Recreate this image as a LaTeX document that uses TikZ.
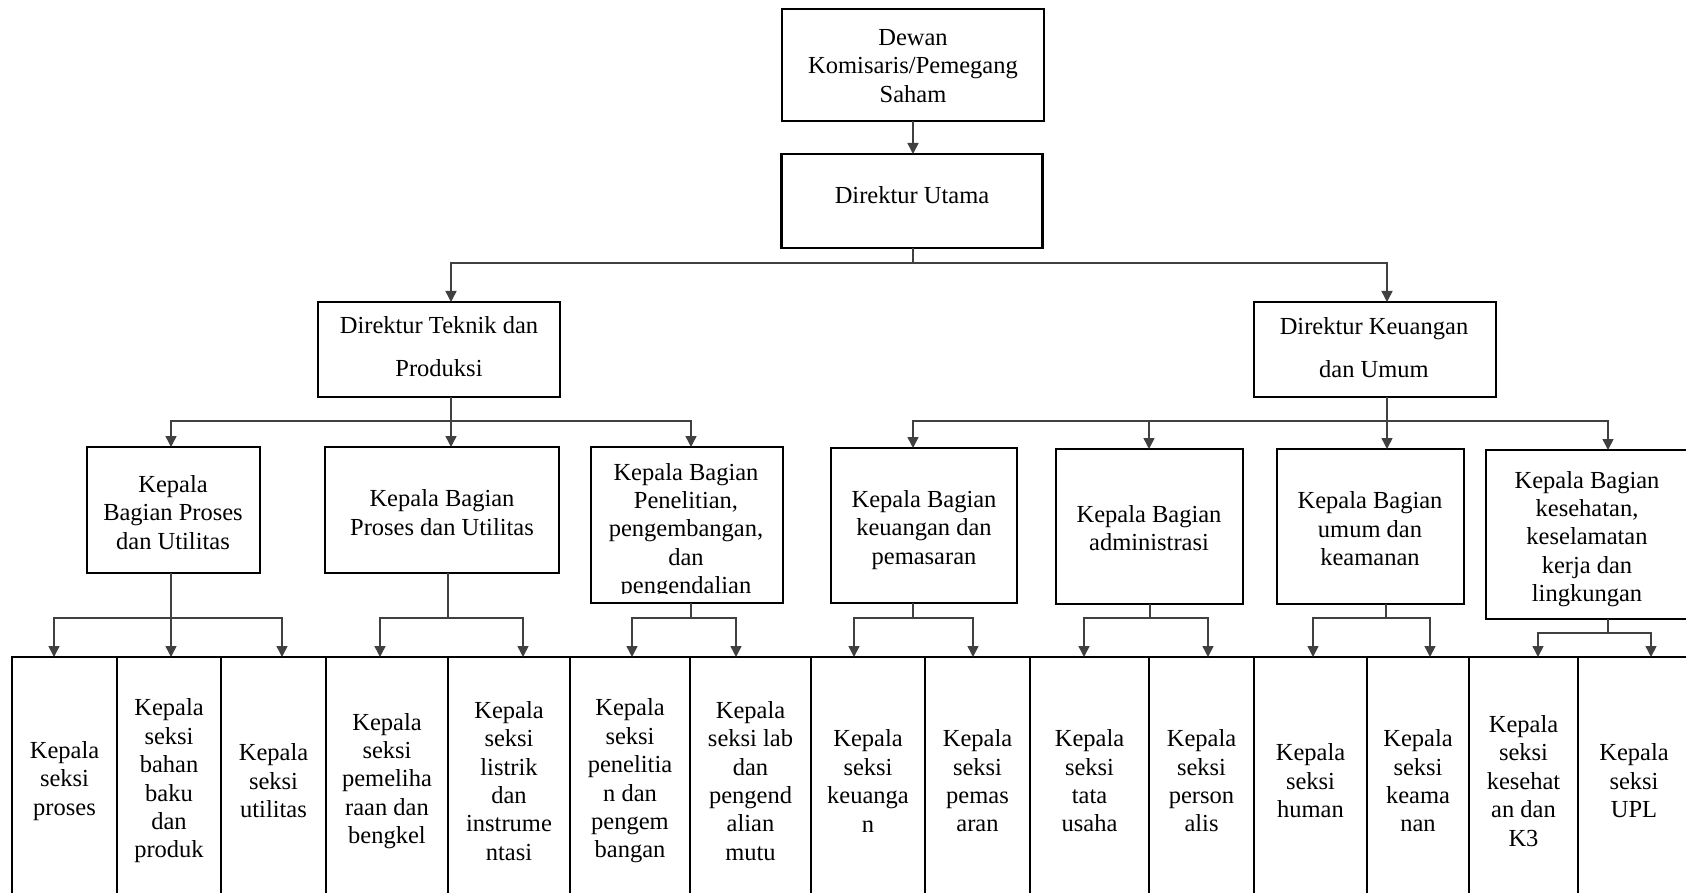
\documentclass[tikz,border=0pt]{standalone}
\usepackage{fontspec}
\setmainfont{Liberation Serif}
\usetikzlibrary{arrows.meta}
\begin{document}
\begin{tikzpicture}[x=1pt,y=-1pt,
  box/.style={draw=black, line width=2.2pt, inner sep=0pt, outer sep=0pt},
  txt/.style={inner sep=0pt, align=center, font=\fontsize{24.5pt}{28.4pt}\selectfont, text=black},
  conn/.style={draw=black!75, line width=1.5pt},
  arr/.style={conn, -{Triangle[length=11pt,width=11pt]}},
]
\useasboundingbox (0,0) rectangle (1686,893);
\fill[white] (0,0) rectangle (1686,893);
\clip (0,0) rectangle (1686,893);

% top levels
\node[box, minimum width=262pt, minimum height=112pt] (dewan) at (913,65) {};
\node[txt] (dewan-t) at (913,66) {Dewan\\Komisaris/Pemegang\\Saham};
\node[box, minimum width=261pt, minimum height=94pt] (utama) at (912,201) {};
\node[txt] (utama-t) at (912,195) {Direktur Utama};
\node[box, minimum width=242pt, minimum height=95pt] (teknik) at (439,349.5) {};
\node[txt] (teknik-t) at (439,347) {Direktur Teknik dan\\[14.6pt]Produksi};
\node[box, minimum width=242pt, minimum height=95pt] (keu) at (1375,349.5) {};
\node[txt] (keu-t) at (1374,348) {Direktur Keuangan\\[14.6pt]dan Umum};

% kepala bagian
\node[box, minimum width=173pt, minimum height=126pt] (kb1) at (173.5,510) {};
\node[txt] (kb1-t) at (173,512.5) {Kepala\\Bagian Proses\\dan Utilitas};
\node[box, minimum width=234pt, minimum height=126pt] (kb2) at (442,510) {};
\node[txt] (kb2-t) at (442,512.5) {Kepala Bagian\\Proses dan Utilitas};
\node[box, minimum width=192pt, minimum height=156pt] (kb3) at (687,525) {};
\begin{scope}
\clip (591,447) rectangle (783,593);
\node[txt] (kb3-t) at (686,531) {Kepala Bagian\\Penelitian,\\pengembangan,\\dan\\pengendalian};
\end{scope}
\node[box, minimum width=186pt, minimum height=155pt] (kb4) at (924,525.5) {};
\node[txt] (kb4-t) at (924,530) {Kepala Bagian\\keuangan dan\\pemasaran};
\node[box, minimum width=187pt, minimum height=155pt] (kb5) at (1149.5,526.5) {};
\node[txt] (kb5-t) at (1149,528) {Kepala Bagian\\administrasi};
\node[box, minimum width=187pt, minimum height=155pt] (kb6) at (1370.5,526.5) {};
\node[txt] (kb6-t) at (1370,529) {Kepala Bagian\\umum dan\\keamanan};
\node[box, minimum width=204pt, minimum height=169pt] (kb7) at (1588,534.5) {};
\node[txt] (kb7-t) at (1587,539) {Kepala Bagian\\kesehatan,\\keselamatan\\kerja dan\\lingkungan};

% seksi row
\node[box, minimum width=105pt, minimum height=240pt] (s1) at (64.5,777) {};
\node[txt] (s1-t) at (64.5,781) {Kepala\\seksi\\proses};
\node[box, minimum width=104pt, minimum height=240pt] (s2) at (169,777) {};
\node[txt] (s2-t) at (169,781) {Kepala\\seksi\\bahan\\baku\\dan\\produk};
\node[box, minimum width=105pt, minimum height=240pt] (s3) at (273.5,777) {};
\node[txt] (s3-t) at (273.5,781) {Kepala\\seksi\\utilitas};
\node[box, minimum width=122pt, minimum height=240pt] (s4) at (387,777) {};
\node[txt] (s4-t) at (387,781) {Kepala\\seksi\\pemeliha\\raan dan\\bengkel};
\node[box, minimum width=122pt, minimum height=240pt] (s5) at (509,777) {};
\node[txt] (s5-t) at (509,781) {Kepala\\seksi\\listrik\\dan\\instrume\\ntasi};
\node[box, minimum width=120pt, minimum height=240pt] (s6) at (630,777) {};
\node[txt] (s6-t) at (630,781) {Kepala\\seksi\\penelitia\\n dan\\pengem\\bangan};
\node[box, minimum width=121pt, minimum height=240pt] (s7) at (750.5,777) {};
\node[txt] (s7-t) at (750.5,781) {Kepala\\seksi lab\\dan\\pengend\\alian\\mutu};
\node[box, minimum width=114pt, minimum height=240pt] (s8) at (868,777) {};
\node[txt] (s8-t) at (868,781) {Kepala\\seksi\\keuanga\\n};
\node[box, minimum width=105pt, minimum height=240pt] (s9) at (977.5,777) {};
\node[txt] (s9-t) at (977.5,781) {Kepala\\seksi\\pemas\\aran};
\node[box, minimum width=119pt, minimum height=240pt] (s10) at (1089.5,777) {};
\node[txt] (s10-t) at (1089.5,781) {Kepala\\seksi\\tata\\usaha};
\node[box, minimum width=105pt, minimum height=240pt] (s11) at (1201.5,777) {};
\node[txt] (s11-t) at (1201.5,781) {Kepala\\seksi\\person\\alis};
\node[box, minimum width=113pt, minimum height=240pt] (s12) at (1310.5,777) {};
\node[txt] (s12-t) at (1310.5,781) {Kepala\\seksi\\human};
\node[box, minimum width=102pt, minimum height=240pt] (s13) at (1418,777) {};
\node[txt] (s13-t) at (1418,781) {Kepala\\seksi\\keama\\nan};
\node[box, minimum width=109pt, minimum height=240pt] (s14) at (1523.5,777) {};
\node[txt] (s14-t) at (1523.5,781) {Kepala\\seksi\\kesehat\\an dan\\K3};
\node[box, minimum width=112pt, minimum height=240pt] (s15) at (1634,777) {};
\node[txt] (s15-t) at (1634,781) {Kepala\\seksi\\UPL};

% connectors
\draw[arr] (dewan.south) -- (dewan.south |- utama.north);
\coordinate (j0) at (913,263);
\draw[conn] ([xshift=1]utama.south) -- (j0);
\draw[arr] (j0) -| ([xshift=12]teknik.north);
\draw[arr] (j0) -| ([xshift=12]keu.north);

\coordinate (jt) at (451,421);
\draw[conn] ([xshift=12]teknik.south) -- (jt);
\draw[arr] (jt) -| ([xshift=-2.5]kb1.north);
\draw[arr] (jt) -- ([xshift=9]kb2.north);
\draw[arr] (jt) -| ([xshift=4]kb3.north);

\coordinate (jk) at (1387,421);
\draw[conn] ([xshift=12]keu.south) -- (jk);
\draw[arr] (jk) -| ([xshift=-11]kb4.north);
\draw[arr] (jk) -| ([xshift=-0.5]kb5.north);
\draw[arr] (jk) -- ([xshift=16.5]kb6.north);
\draw[arr] (jk) -| ([xshift=20]kb7.north);

\coordinate (j1) at (171,618);
\draw[conn] ([xshift=-2.5]kb1.south) -- (j1);
\draw[arr] (j1) -| ([xshift=-10.5]s1.north);
\draw[arr] (j1) -- ([xshift=2]s2.north);
\draw[arr] (j1) -| ([xshift=8.5]s3.north);

\coordinate (j2) at (448,618);
\draw[conn] ([xshift=6]kb2.south) -- (j2);
\draw[arr] (j2) -| ([xshift=-7]s4.north);
\draw[arr] (j2) -| ([xshift=14]s5.north);

\coordinate (j3) at (691,618);
\draw[conn] ([xshift=4]kb3.south) -- (j3);
\draw[arr] (j3) -| ([xshift=2]s6.north);
\draw[arr] (j3) -| ([xshift=-14.5]s7.north);

\coordinate (j4) at (913,618);
\draw[conn] ([xshift=-11]kb4.south) -- (j4);
\draw[arr] (j4) -| ([xshift=-14]s8.north);
\draw[arr] (j4) -| ([xshift=-4.5]s9.north);

\coordinate (j5) at (1150,618);
\draw[conn] ([xshift=0.5]kb5.south) -- (j5);
\draw[arr] (j5) -| ([xshift=-5.5]s10.north);
\draw[arr] (j5) -| ([xshift=6.5]s11.north);

\coordinate (j6) at (1386,618);
\draw[conn] ([xshift=15.5]kb6.south) -- (j6);
\draw[arr] (j6) -| ([xshift=2.5]s12.north);
\draw[arr] (j6) -| ([xshift=12]s13.north);

\coordinate (j7) at (1608,633);
\draw[conn] ([xshift=20]kb7.south) -- (j7);
\draw[arr] (j7) -| ([xshift=14.5]s14.north);
\draw[arr] (j7) -| ([xshift=17]s15.north);
\end{tikzpicture}
\end{document}
